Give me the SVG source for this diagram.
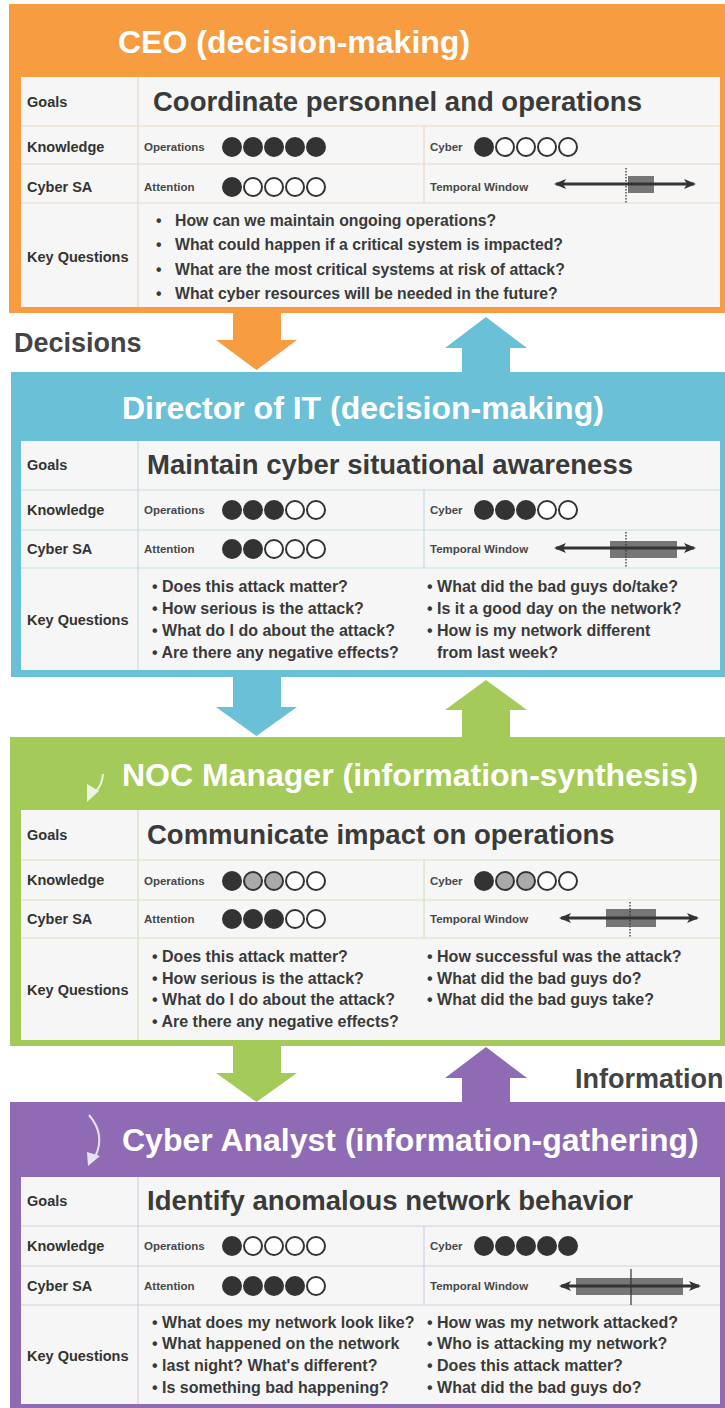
<svg xmlns="http://www.w3.org/2000/svg" width="725" height="1408" viewBox="0 0 725 1408">
<defs>
<style>
text{font-family:"Liberation Sans",Arial,sans-serif;font-weight:bold}
.title{font-size:32px;fill:#fff}
.tbl{fill:#f5f6f5}
.lbl{font-size:14.5px;fill:#333}
.goal{font-size:27.5px;fill:#3a3a3a}
.sm{font-size:11.5px;fill:#484848}
.kq{font-size:16px;fill:#3a3a3a}
.kqc{font-size:15.8px;fill:#3a3a3a}
.side{font-size:27px;fill:#444}
.f{fill:#333;stroke:#333;stroke-width:2}
.e{fill:#fff;stroke:#333;stroke-width:2}
.g{fill:#aaa;stroke:#333;stroke-width:2}
.ln{stroke-width:1.2;fill:none}
.o .ln{stroke:#ead8c8}
.b .ln{stroke:#c6dce3}
.gr .ln{stroke:#d3e1bf}
.p .ln{stroke:#d8cde4}
.tw{stroke:#333;stroke-width:3;marker-start:url(#ah);marker-end:url(#ah)}
.twb{fill:#767676}
.dot{stroke:#333;stroke-width:1.3;stroke-dasharray:1.5 1.5}
.icon{fill:none;stroke:#eef2e6;stroke-width:2}
</style>
<marker id="ah" viewBox="0 0 12 10" refX="10" refY="5" markerWidth="12" markerHeight="10" markerUnits="userSpaceOnUse" orient="auto-start-reverse">
<path d="M0,0 L12,5 L0,10 L3,5 z" fill="#333"/>
</marker>
</defs>

<g id="connectors">
<polygon points="233,311 281,311 281,340 297,340 256.5,370 216,340 233,340" fill="#f79c41"/>
<polygon points="486,317 527,348 510,348 510,374 462,374 462,348 445,348" fill="#6ac0d6"/>
<polygon points="233,675 281,675 281,707 297,707 256.5,736 216,707 233,707" fill="#6ac0d6"/>
<polygon points="486,680 527,710 510,710 510,739 462,739 462,710 445,710" fill="#a4ca5a"/>
<polygon points="233,1044 281,1044 281,1073 297,1073 256.5,1102 216,1073 233,1073" fill="#a4ca5a"/>
<polygon points="486,1047 527,1078 510,1078 510,1104 462,1104 462,1078 445,1078" fill="#8f6bb6"/>
</g>

<text id="lbl-decisions" class="side" x="14" y="352">Decisions</text>
<text id="lbl-information" class="side" x="575" y="1088">Information</text>

<g id="ceo" class="o">
<rect x="9" y="4" width="716" height="309" fill="#f79c41"/>
<text class="title" x="118" y="53">CEO (decision-making)</text>
<rect class="tbl" x="21" y="77" width="699" height="230"/>
<path class="ln" d="M21,126H720M21,164H720M21,203H720M138,77V307M424,126V203"/>
<text class="lbl" x="27" y="107">Goals</text>
<text class="lbl" x="27" y="152">Knowledge</text>
<text class="lbl" x="27" y="192">Cyber SA</text>
<text class="lbl" x="27" y="262">Key Questions</text>
<text class="goal" x="153" y="111">Coordinate personnel and operations</text>
<text class="sm" x="144" y="151">Operations</text>
<circle class="f" cx="232" cy="147" r="9"/><circle class="f" cx="253" cy="147" r="9"/><circle class="f" cx="274" cy="147" r="9"/><circle class="f" cx="295" cy="147" r="9"/><circle class="f" cx="316" cy="147" r="9"/>
<text class="sm" x="430" y="151">Cyber</text>
<circle class="f" cx="484" cy="147" r="9"/><circle class="e" cx="505" cy="147" r="9"/><circle class="e" cx="526" cy="147" r="9"/><circle class="e" cx="547" cy="147" r="9"/><circle class="e" cx="568" cy="147" r="9"/>
<text class="sm" x="144" y="191">Attention</text>
<circle class="f" cx="232" cy="187" r="9"/><circle class="e" cx="253" cy="187" r="9"/><circle class="e" cx="274" cy="187" r="9"/><circle class="e" cx="295" cy="187" r="9"/><circle class="e" cx="316" cy="187" r="9"/>
<text class="sm" x="430" y="191">Temporal Window</text>
<rect class="twb" x="628" y="176" width="26" height="17"/>
<line class="tw" x1="556" y1="184" x2="694" y2="184"/>
<line class="dot" x1="626" y1="168" x2="626" y2="203"/>
<text class="kqc" x="156" y="226">•</text><text class="kqc" x="175" y="226">How can we maintain ongoing operations?</text>
<text class="kqc" x="156" y="250">•</text><text class="kqc" x="175" y="250">What could happen if a critical system is impacted?</text>
<text class="kqc" x="156" y="274.5">•</text><text class="kqc" x="175" y="274.5">What are the most critical systems at risk of attack?</text>
<text class="kqc" x="156" y="299">•</text><text class="kqc" x="175" y="299">What cyber resources will be needed in the future?</text>
</g>

<g id="director" class="b">
<rect x="11" y="372" width="714" height="305" fill="#6ac0d6"/>
<text class="title" x="122" y="419">Director of IT (decision-making)</text>
<rect class="tbl" x="21" y="441" width="699" height="229"/>
<path class="ln" d="M21,490H720M21,530H720M21,568H720M138,441V670M424,490V568"/>
<text class="lbl" x="27" y="470">Goals</text>
<text class="lbl" x="27" y="515">Knowledge</text>
<text class="lbl" x="27" y="554">Cyber SA</text>
<text class="lbl" x="27" y="625">Key Questions</text>
<text class="goal" x="147" y="474">Maintain cyber situational awareness</text>
<text class="sm" x="144" y="514">Operations</text>
<circle class="f" cx="232" cy="510" r="9"/><circle class="f" cx="253" cy="510" r="9"/><circle class="f" cx="274" cy="510" r="9"/><circle class="e" cx="295" cy="510" r="9"/><circle class="e" cx="316" cy="510" r="9"/>
<text class="sm" x="430" y="514">Cyber</text>
<circle class="f" cx="484" cy="510" r="9"/><circle class="f" cx="505" cy="510" r="9"/><circle class="f" cx="526" cy="510" r="9"/><circle class="e" cx="547" cy="510" r="9"/><circle class="e" cx="568" cy="510" r="9"/>
<text class="sm" x="144" y="553">Attention</text>
<circle class="f" cx="232" cy="549" r="9"/><circle class="f" cx="253" cy="549" r="9"/><circle class="e" cx="274" cy="549" r="9"/><circle class="e" cx="295" cy="549" r="9"/><circle class="e" cx="316" cy="549" r="9"/>
<text class="sm" x="430" y="553">Temporal Window</text>
<rect class="twb" x="610" y="541" width="67" height="17"/>
<line class="tw" x1="556" y1="548" x2="694" y2="548"/>
<line class="dot" x1="626" y1="532" x2="626" y2="567"/>
<text class="kq" x="152" y="592">• Does this attack matter?</text>
<text class="kq" x="152" y="614">• How serious is the attack?</text>
<text class="kq" x="152" y="636">• What do I do about the attack?</text>
<text class="kq" x="152" y="658">• Are there any negative effects?</text>
<text class="kq" x="427" y="592">• What did the bad guys do/take?</text>
<text class="kq" x="427" y="614">• Is it a good day on the network?</text>
<text class="kq" x="427" y="636">• How is my network different</text>
<text class="kq" x="437" y="658">from last week?</text>
</g>

<g id="noc" class="gr">
<rect x="10" y="737" width="715" height="309" fill="#a4ca5a"/>
<text class="title" x="122" y="786">NOC Manager (information-synthesis)</text>
<path class="icon" d="M103,774 Q102,786 95,792"/>
<polygon points="87,784 87,802 99,791" fill="#eef2e6"/>
<rect class="tbl" x="21" y="810" width="699" height="230"/>
<path class="ln" d="M21,860H720M21,900H720M21,938H720M138,810V1040M424,860V938"/>
<text class="lbl" x="27" y="840">Goals</text>
<text class="lbl" x="27" y="885">Knowledge</text>
<text class="lbl" x="27" y="924">Cyber SA</text>
<text class="lbl" x="27" y="995">Key Questions</text>
<text class="goal" x="147" y="844">Communicate impact on operations</text>
<text class="sm" x="144" y="885">Operations</text>
<circle class="f" cx="232" cy="881" r="9"/><circle class="g" cx="253" cy="881" r="9"/><circle class="g" cx="274" cy="881" r="9"/><circle class="e" cx="295" cy="881" r="9"/><circle class="e" cx="316" cy="881" r="9"/>
<text class="sm" x="430" y="885">Cyber</text>
<circle class="f" cx="484" cy="881" r="9"/><circle class="g" cx="505" cy="881" r="9"/><circle class="g" cx="526" cy="881" r="9"/><circle class="e" cx="547" cy="881" r="9"/><circle class="e" cx="568" cy="881" r="9"/>
<text class="sm" x="144" y="923">Attention</text>
<circle class="f" cx="232" cy="919" r="9"/><circle class="f" cx="253" cy="919" r="9"/><circle class="f" cx="274" cy="919" r="9"/><circle class="e" cx="295" cy="919" r="9"/><circle class="e" cx="316" cy="919" r="9"/>
<text class="sm" x="430" y="923">Temporal Window</text>
<rect class="twb" x="606" y="909" width="50" height="18"/>
<line class="tw" x1="561" y1="918" x2="697" y2="918"/>
<line class="dot" x1="630" y1="902" x2="630" y2="937"/>
<text class="kq" x="152" y="962">• Does this attack matter?</text>
<text class="kq" x="152" y="984">• How serious is the attack?</text>
<text class="kq" x="152" y="1005">• What do I do about the attack?</text>
<text class="kq" x="152" y="1027">• Are there any negative effects?</text>
<text class="kq" x="427" y="962">• How successful was the attack?</text>
<text class="kq" x="427" y="984">• What did the bad guys do?</text>
<text class="kq" x="427" y="1005">• What did the bad guys take?</text>
</g>

<g id="analyst" class="p">
<rect x="10" y="1102" width="715" height="306" fill="#8f6bb6"/>
<text class="title" x="122" y="1151">Cyber Analyst (information-gathering)</text>
<path d="M89,1115 Q106,1135 95,1157" fill="none" stroke="#e9e3f1" stroke-width="2"/>
<polygon points="87,1152 100,1156 88,1166" fill="#e9e3f1"/>
<rect class="tbl" x="21" y="1177" width="699" height="227"/>
<path class="ln" d="M21,1226H720M21,1266H720M21,1305H720M138,1177V1404M424,1226V1305"/>
<text class="lbl" x="27" y="1206">Goals</text>
<text class="lbl" x="27" y="1251">Knowledge</text>
<text class="lbl" x="27" y="1291">Cyber SA</text>
<text class="lbl" x="27" y="1361">Key Questions</text>
<text class="goal" x="147" y="1210">Identify anomalous network behavior</text>
<text class="sm" x="144" y="1250">Operations</text>
<circle class="f" cx="232" cy="1246" r="9"/><circle class="e" cx="253" cy="1246" r="9"/><circle class="e" cx="274" cy="1246" r="9"/><circle class="e" cx="295" cy="1246" r="9"/><circle class="e" cx="316" cy="1246" r="9"/>
<text class="sm" x="430" y="1250">Cyber</text>
<circle class="f" cx="484" cy="1246" r="9"/><circle class="f" cx="505" cy="1246" r="9"/><circle class="f" cx="526" cy="1246" r="9"/><circle class="f" cx="547" cy="1246" r="9"/><circle class="f" cx="568" cy="1246" r="9"/>
<text class="sm" x="144" y="1290">Attention</text>
<circle class="f" cx="232" cy="1286" r="9"/><circle class="f" cx="253" cy="1286" r="9"/><circle class="f" cx="274" cy="1286" r="9"/><circle class="f" cx="295" cy="1286" r="9"/><circle class="e" cx="316" cy="1286" r="9"/>
<text class="sm" x="430" y="1290">Temporal Window</text>
<rect class="twb" x="576" y="1278" width="107" height="17"/>
<line class="tw" x1="561" y1="1286" x2="699" y2="1286"/>
<line x1="631" y1="1269" x2="631" y2="1305" stroke="#333" stroke-width="1.2"/>
<text class="kq" x="152" y="1328">• What does my network look like?</text>
<text class="kq" x="152" y="1349">• What happened on the network</text>
<text class="kq" x="152" y="1371">• last night? What's different?</text>
<text class="kq" x="152" y="1393">• Is something bad happening?</text>
<text class="kq" x="427" y="1328">• How was my network attacked?</text>
<text class="kq" x="427" y="1349">• Who is attacking my network?</text>
<text class="kq" x="427" y="1371">• Does this attack matter?</text>
<text class="kq" x="427" y="1393">• What did the bad guys do?</text>
</g>
</svg>
